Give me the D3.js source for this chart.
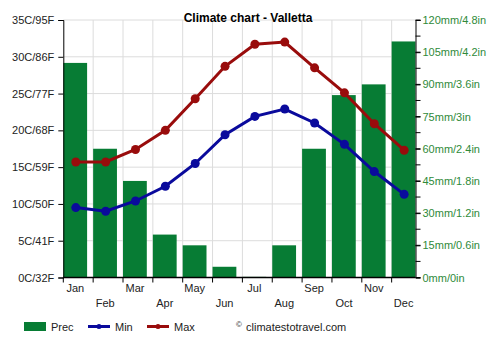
<!DOCTYPE html>
<html>
<head>
<meta charset="utf-8">
<script src="https://cdn.jsdelivr.net/npm/d3@7"></script>
<style>
    body { margin: 0; background: #fff; }
    svg { font-family: "Liberation Sans", Arial, sans-serif; }
</style>
</head>
<body>
<svg id="chart" width="500" height="350"></svg>
<script>
const months = ["Jan", "Feb", "Mar", "Apr", "May", "Jun", "Jul", "Aug", "Sep", "Oct", "Nov", "Dec"];
const prec = [100, 60, 45, 20, 15, 5, 0.3, 15, 60, 85, 90, 110];
const tmin = [9.5, 9.0, 10.4, 12.4, 15.5, 19.4, 21.9, 22.9, 21.0, 18.1, 14.4, 11.3];
const tmax = [15.7, 15.7, 17.4, 20.0, 24.3, 28.7, 31.7, 32.0, 28.5, 25.1, 20.9, 17.3];
const tempTicks = [0, 5, 10, 15, 20, 25, 30, 35];
const tempLabels = ["0C/32F", "5C/41F", "10C/50F", "15C/59F", "20C/68F", "25C/77F", "30C/86F", "35C/95F"];
const precTicks = [0, 15, 30, 45, 60, 75, 90, 105, 120];
const precLabels = ["0mm/0in", "15mm/0.6in", "30mm/1.2in", "45mm/1.8in", "60mm/2.4in", "75mm/3in", "90mm/3.6in", "105mm/4.2in", "120mm/4.8in"];

const green = "#077c34", blue = "#0a0a9c", red = "#990c0c";
const plotL = 63.3, plotR = 415.5, plotT = 20, plotB = 277.5;

const svg = d3.select("#chart");

const x = d3.scaleBand().domain(months).range([plotL, plotL + 12 * 29.85]);
const yT = d3.scaleLinear().domain([0, 35]).range([plotB, plotT]);
const yP = d3.scaleLinear().domain([0, 120]).range([plotB, plotT]);

// grid
svg.append("g").selectAll("line").data(tempTicks.slice(1))
    .enter().append("line")
    .attr("x1", plotL).attr("x2", plotR)
    .attr("y1", d => yT(d)).attr("y2", d => yT(d))
    .attr("stroke", "#dcdcdc").attr("stroke-width", 1);
svg.append("g").selectAll("line").data(months.slice(1))
    .enter().append("line")
    .attr("x1", d => x(d)).attr("x2", d => x(d))
    .attr("y1", plotT).attr("y2", plotB)
    .attr("stroke", "#dcdcdc").attr("stroke-width", 1);

// bars
svg.append("g").selectAll("rect").data(prec)
    .enter().append("rect")
    .attr("x", (d, i) => x(months[i]))
    .attr("width", 23.8)
    .attr("y", d => yP(d))
    .attr("height", d => plotB - yP(d))
    .attr("fill", green);

// left axis
const axL = svg.append("g")
    .attr("transform", `translate(${plotL},0)`)
    .call(d3.axisLeft(yT).tickValues(tempTicks).tickSize(5).tickPadding(4)
        .tickFormat((d, i) => tempLabels[i]));
axL.select(".domain").attr("stroke", "#000");
axL.selectAll("text").attr("font-size", 11).attr("fill", "#222").attr("font-family", "Liberation Sans, Arial, sans-serif");

// right axis
const minor = d3.range(0, 121, 7.5);
svg.append("g").selectAll("line").data(minor)
    .enter().append("line")
    .attr("x1", plotR).attr("x2", plotR + 5)
    .attr("y1", d => yP(d)).attr("y2", d => yP(d))
    .attr("stroke", "#000");
const axR = svg.append("g")
    .attr("transform", `translate(${plotR},0)`)
    .call(d3.axisRight(yP).tickValues(precTicks).tickSize(5).tickPadding(2)
        .tickFormat((d, i) => precLabels[i]));
axR.select(".domain").attr("stroke", "#000");
axR.selectAll("text").attr("font-size", 11).attr("fill", "#2f8a3a").attr("font-family", "Liberation Sans, Arial, sans-serif");

// bottom axis
svg.append("line")
    .attr("x1", plotL).attr("x2", plotR)
    .attr("y1", plotB).attr("y2", plotB)
    .attr("stroke", "#000").attr("stroke-width", 1.5);
svg.append("g").selectAll("line").data(months)
    .enter().append("line")
    .attr("x1", d => x(d)).attr("x2", d => x(d))
    .attr("y1", plotB).attr("y2", plotB + 5)
    .attr("stroke", "#000");
svg.append("g").selectAll("text").data(months)
    .enter().append("text")
    .attr("x", d => x(d) + 12)
    .attr("y", (d, i) => i % 2 === 0 ? 292 : 307)
    .attr("text-anchor", "middle")
    .attr("font-size", 11)
    .attr("fill", "#222")
    .text(d => d);

// lines
const line = y => d3.line().x((d, i) => x(months[i]) + 12.5).y(d => y(d));
[[tmin, blue], [tmax, red]].forEach(([data, c]) => {
    svg.append("path").datum(data)
        .attr("d", line(yT))
        .attr("fill", "none").attr("stroke", c).attr("stroke-width", 3);
    svg.append("g").selectAll("circle").data(data)
        .enter().append("circle")
        .attr("cx", (d, i) => x(months[i]) + 12.5)
        .attr("cy", d => yT(d))
        .attr("r", 4.5)
        .attr("fill", c);
});

// title
svg.append("text")
    .attr("x", 248).attr("y", 22)
    .attr("text-anchor", "middle")
    .attr("font-size", 12).attr("font-weight", "bold")
    .attr("fill", "#000")
    .text("Climate chart - Valletta");

// legend
const lg = svg.append("g").attr("font-size", 11).attr("fill", "#222");
lg.append("rect").attr("x", 24).attr("y", 322).attr("width", 22).attr("height", 9).attr("fill", green);
lg.append("text").attr("x", 51).attr("y", 331).text("Prec");
[[88, blue, "Min"], [147, red, "Max"]].forEach(([lx, c, t]) => {
    lg.append("line").attr("x1", lx).attr("x2", lx + 22).attr("y1", 326.5).attr("y2", 326.5)
        .attr("stroke", c).attr("stroke-width", 3);
    lg.append("circle").attr("cx", lx + 11).attr("cy", 326.5).attr("r", 2.5).attr("fill", c);
    lg.append("text").attr("x", lx + 27).attr("y", 331).text(t);
});
lg.append("text").attr("x", 236).attr("y", 327).attr("font-size", 8).text("©");
lg.append("text").attr("x", 246).attr("y", 331).text("climatestotravel.com");
</script>
</body>
</html>
